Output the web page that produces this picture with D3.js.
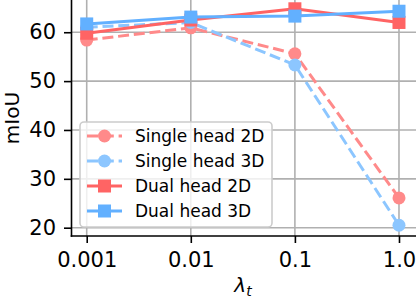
<!DOCTYPE html>
<html>
<head>
<meta charset="utf-8">
<script src="https://cdn.jsdelivr.net/npm/d3@7"></script>
<style>
  body { margin: 0; background: #fff; }
  svg { display: block; font-family: 'DejaVu Sans', sans-serif; }
</style>
</head>
<body>
<svg id="graphic" width="416" height="302"></svg>
<script>
const categories = ['0.001', '0.01', '0.1', '1.0'];
const yTicks = [20, 30, 40, 50, 60];

const single2D = [58.4, 60.9, 55.6, 26.1];
const single3D = [61.0, 62.0, 53.3, 20.5];
const dual2D = [59.8, 62.5, 64.8, 62.0];
const dual3D = [61.7, 63.1, 63.3, 64.3];

const seriesList = [
  {name: 'Single head 2D', values: single2D, color: '#ff8a8a', dashed: true, marker: 'circle'},
  {name: 'Single head 3D', values: single3D, color: '#8cc6ff', dashed: true, marker: 'circle'},
  {name: 'Dual head 2D', values: dual2D, color: '#ff6464', dashed: false, marker: 'square'},
  {name: 'Dual head 3D', values: dual3D, color: '#62b0ff', dashed: false, marker: 'square'},
];

const margins = {left: 71.5, right: 0, top: 0, bottom: 66};
const svg = d3.select('#graphic');
const W = 416;
const axRight = 414.6;
const axBottom = 236;

const xScale = d3.scalePoint()
    .domain(categories)
    .range([71.1, axRight])
    .padding(0.15);

const yScale = d3.scaleLinear()
    .domain([18.3, 66.7])
    .range([axBottom, -0.5]);

// grid
const grid = svg.append('g').attr('stroke', '#b0b0b0').attr('stroke-width', 1.6);
grid.selectAll('.vg')
    .data(categories)
    .enter()
    .append('line')
    .attr('x1', (d) => xScale(d))
    .attr('x2', (d) => xScale(d))
    .attr('y1', 0)
    .attr('y2', axBottom);
grid.selectAll('.hg')
    .data(yTicks)
    .enter()
    .append('line')
    .attr('x1', margins.left)
    .attr('x2', W)
    .attr('y1', (d) => yScale(d))
    .attr('y2', (d) => yScale(d));

// axes
const xAxis = d3.axisBottom(xScale).tickSize(7).tickPadding(9);
const yAxis = d3.axisLeft(yScale).tickValues(yTicks).tickSize(7.5).tickPadding(8);

const gx = svg.append('g')
    .attr('transform', `translate(0, ${axBottom})`)
    .call(xAxis);
const gy = svg.append('g')
    .attr('transform', `translate(${margins.left}, 0)`)
    .call(yAxis);

[gx, gy].forEach((g) => {
  g.select('.domain').remove();
  g.selectAll('.tick line').attr('stroke', '#000').attr('stroke-width', 1.6);
  g.selectAll('.tick text')
      .attr('fill', '#000')
      .style('font-size', '21px')
      .style('font-family', "'DejaVu Sans', sans-serif");
});

// spines
svg.append('line')
    .attr('x1', margins.left).attr('x2', margins.left)
    .attr('y1', 0).attr('y2', axBottom + 0.8)
    .attr('stroke', '#000').attr('stroke-width', 1.6);
svg.append('line')
    .attr('x1', margins.left - 0.8).attr('x2', W)
    .attr('y1', axBottom).attr('y2', axBottom)
    .attr('stroke', '#000').attr('stroke-width', 1.6);

// series
const line = d3.line()
    .x((d, i) => xScale(categories[i]))
    .y((d) => yScale(d));

function drawMarker(g, marker, color, x, y) {
  if (marker === 'circle') {
    g.append('circle').attr('cx', x).attr('cy', y).attr('r', 6.5).attr('fill', color);
  } else {
    g.append('rect').attr('x', x - 6.5).attr('y', y - 6.5)
        .attr('width', 13).attr('height', 13).attr('fill', color);
  }
}

seriesList.forEach((s) => {
  const g = svg.append('g');
  g.append('path')
      .attr('d', line(s.values))
      .attr('fill', 'none')
      .attr('stroke', s.color)
      .attr('stroke-width', 3)
      .attr('stroke-dasharray', s.dashed ? '11,4.8' : null);
  s.values.forEach((v, i) => drawMarker(g, s.marker, s.color, xScale(categories[i]), yScale(v)));
});

// legend
const legend = svg.append('g');
legend.append('rect')
    .attr('x', 80).attr('y', 122)
    .attr('width', 192).attr('height', 105)
    .attr('rx', 4)
    .attr('fill', 'rgba(255,255,255,0.8)')
    .attr('stroke', '#cccccc')
    .attr('stroke-width', 1.6);

seriesList.forEach((s, i) => {
  const y = 136 + i * 25;
  const g = legend.append('g');
  g.append('line')
      .attr('x1', 87).attr('x2', 122)
      .attr('y1', y).attr('y2', y)
      .attr('stroke', s.color)
      .attr('stroke-width', 3)
      .attr('stroke-dasharray', s.dashed ? '11,4.8' : null);
  drawMarker(g, s.marker, s.color, 104.5, y);
  g.append('text')
      .attr('x', 135).attr('y', y + 6)
      .style('font-size', '17px')
      .attr('fill', '#000')
      .text(s.name);
});

// axis labels
svg.append('text')
    .attr('transform', `translate(19, 118) rotate(-90)`)
    .attr('text-anchor', 'middle')
    .style('font-size', '20px')
    .text('mIoU');

const xl = svg.append('text')
    .attr('x', 243).attr('y', 292)
    .attr('text-anchor', 'middle')
    .style('font-size', '20px');
xl.append('tspan').style('font-style', 'italic').text('λ');
xl.append('tspan').attr('dy', 4).style('font-style', 'italic').style('font-size', '14px').text('t');
</script>
</body>
</html>
